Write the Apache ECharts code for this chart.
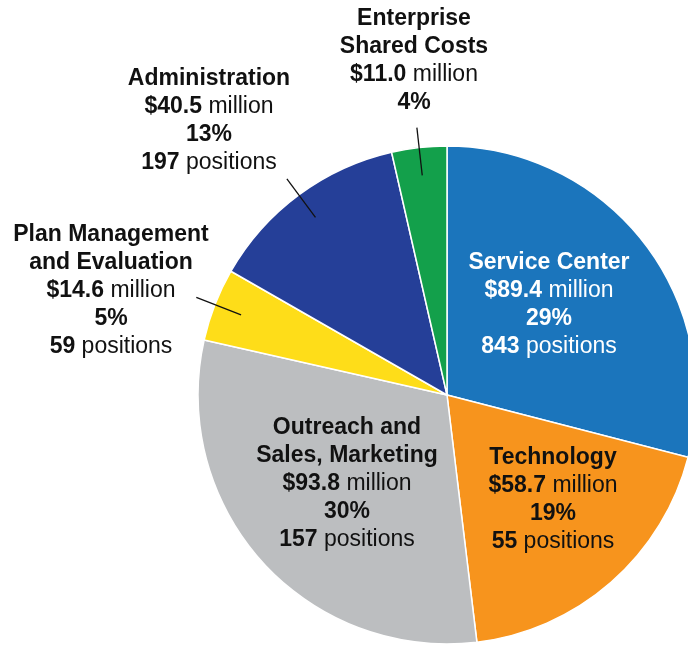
<!DOCTYPE html>
<html>
<head>
<meta charset="utf-8">
<script src="https://cdn.jsdelivr.net/npm/echarts@6/dist/echarts.min.js"></script>
<style>
  html, body { margin: 0; padding: 0; background: #ffffff; }
  #chart { width: 688px; height: 646px; }
</style>
</head>
<body>
<div id="chart"></div>
<script>
// ---- data ----
var categories = [
  'Service Center',
  'Technology',
  'Outreach and\nSales, Marketing',
  'Plan Management\nand Evaluation',
  'Administration',
  'Enterprise\nShared Costs'
];
var budgetMillions = [89.4, 58.7, 93.8, 14.6, 40.5, 11.0];
var positions = [843, 55, 157, 59, 197, null];

// ---- styles ----
var sliceColors = ['#1b75bc', '#f7941d', '#bcbec0', '#fedd19', '#253f98', '#13a04b'];
var labelColors = ['#ffffff', '#111111', '#111111', '#111111', '#111111', '#111111'];
var labelPlacement = ['inside', 'inside', 'inside', 'outside', 'outside', 'outside'];
// label block centres (text layout)
var labelCentres = [[549, 305], [553, 500], [347, 484], [111, 291], [209, 121], [414, 61]];
var PIE_CENTER = [447, 395];
var PIE_RADIUS = 249;
var LINE_START_R = 221;   // leader lines start inside the slice
var LINE_LENGTH = 48;

var chart = echarts.init(document.getElementById('chart'), null, { renderer: 'canvas' });

var fontFamily = '"Liberation Sans", Arial, Helvetica, sans-serif';

function buildLabel(params) {
  var i = params.dataIndex;
  var lines = categories[i].split('\n').map(function (s) { return '{b|' + s + '}'; });
  lines.push('{b|$' + budgetMillions[i].toFixed(1) + '}{n| million}');
  lines.push('{b|' + Math.round(params.percent) + '%}');
  if (positions[i] != null) {
    lines.push('{b|' + positions[i] + '}{n| positions}');
  }
  return lines.join('\n');
}

var sliceData = categories.map(function (name, i) {
  return {
    name: name,
    value: budgetMillions[i],
    label: { position: labelPlacement[i], color: labelColors[i] }
  };
});

// invisible overlay pie used only to draw the leader lines on top of the slices
var leaderData = categories.map(function (name, i) {
  var outside = labelPlacement[i] === 'outside';
  return {
    name: name,
    value: budgetMillions[i],
    label: { show: outside },
    labelLine: { show: outside }
  };
});

var option = {
  animation: false,
  backgroundColor: '#ffffff',
  color: sliceColors,
  series: [{
    type: 'pie',
    center: PIE_CENTER,
    radius: [0, PIE_RADIUS],
    startAngle: 90,
    clockwise: true,
    avoidLabelOverlap: false,
    percentPrecision: 0,
    silent: true,
    z: 2,
    itemStyle: { borderColor: '#ffffff', borderWidth: 1.5 },
    emphasis: { disabled: true },
    label: {
      show: true,
      formatter: buildLabel,
      align: 'center',
      verticalAlign: 'middle',
      fontFamily: fontFamily,
      rich: {
        b: { fontFamily: fontFamily, fontSize: 23, fontWeight: 'bold', lineHeight: 28, align: 'center' },
        n: { fontFamily: fontFamily, fontSize: 23, fontWeight: 'normal', lineHeight: 28, align: 'center' }
      }
    },
    labelLine: { show: false },
    labelLayout: function (params) {
      var i = params.dataIndex;
      return {
        x: labelCentres[i][0],
        y: labelCentres[i][1],
        align: 'center',
        verticalAlign: 'middle'
      };
    },
    data: sliceData
  }, {
    type: 'pie',
    center: PIE_CENTER,
    radius: [0, LINE_START_R],
    startAngle: 90,
    clockwise: true,
    avoidLabelOverlap: false,
    silent: true,
    z: 3,
    itemStyle: { color: 'rgba(0,0,0,0)', borderWidth: 0 },
    emphasis: { disabled: true },
    label: {
      show: true,
      position: 'outside',
      formatter: ' ',
      fontSize: 1,
      distance: 0
    },
    labelLine: {
      show: true,
      showAbove: true,
      length: LINE_LENGTH,
      length2: 0,
      smooth: false,
      lineStyle: { color: '#111111', width: 1.3 }
    },
    data: leaderData
  }]
};

chart.setOption(option);
</script>
</body>
</html>
